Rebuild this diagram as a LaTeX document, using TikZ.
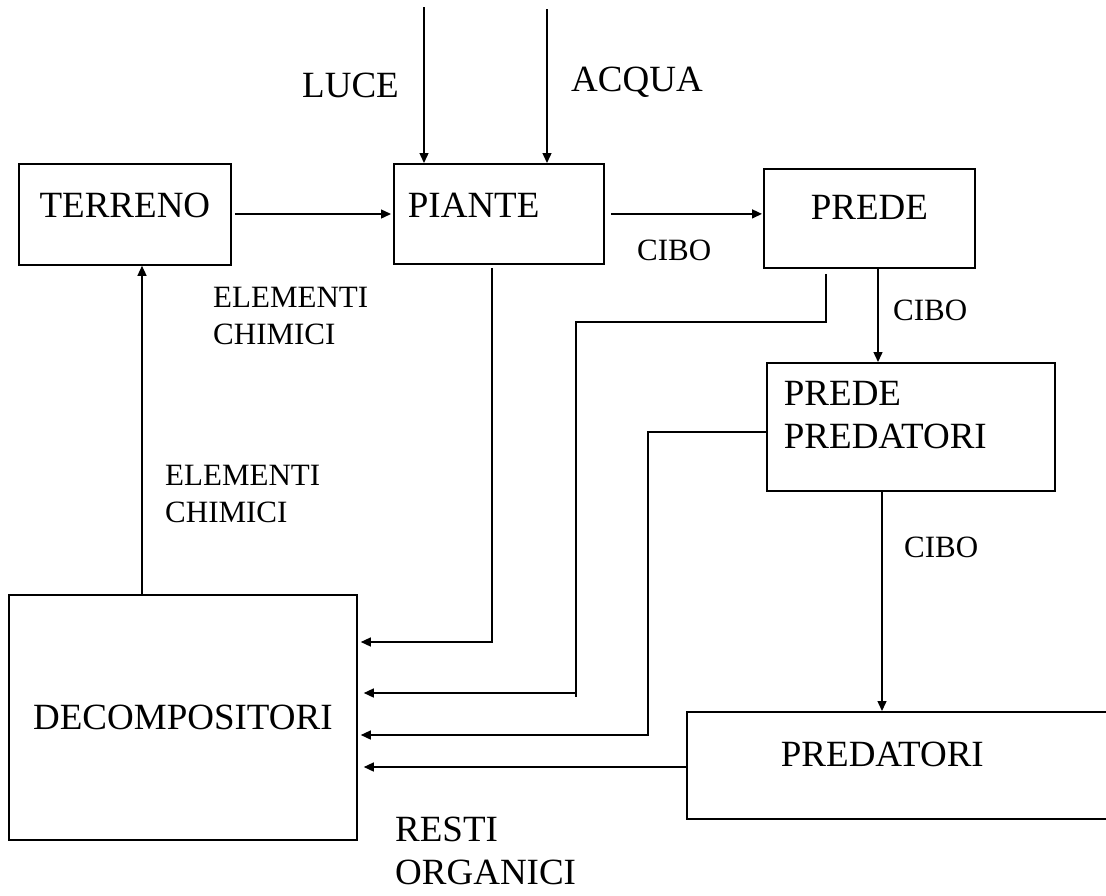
\documentclass[tikz,border=0pt]{standalone}
\usepackage{fontspec}
\setmainfont{Liberation Serif}
\usetikzlibrary{arrows.meta, positioning}
\tikzset{
  block/.style = {rectangle, draw=black, line width=1.8pt, anchor=north west, inner sep=0pt, font=\fontsize{37}{43}\selectfont},
  bigtag/.style = {inner sep=0pt, align=left, font=\fontsize{37}{43}\selectfont},
  smalltag/.style = {inner sep=0pt, align=left, font=\fontsize{31}{37}\selectfont},
  flow/.style = {-{Triangle[length=10pt, width=9pt]}, line width=1.4pt},
  wire/.style = {line width=1.4pt}
}
\begin{document}
\begin{tikzpicture}[x=1pt, y=-1pt]
\useasboundingbox (0,0) rectangle (1106,895);

% Boxes
\node[block, minimum width=212pt, minimum height=101pt, text depth=18pt] (terreno) at (18,163) {TERRENO};
\node[block, minimum width=210pt, minimum height=100pt, text width=182pt, align=left, text depth=18pt] (piante) at (393,163) {PIANTE};
\node[block, minimum width=211pt, minimum height=99pt, text depth=22pt] (prede) at (763,168) {PREDE};
\node[block, minimum width=288pt, minimum height=128pt, text width=254pt, align=left, text depth=67pt] (pp) at (766,362) {PREDE\\PREDATORI};
\node[block, minimum width=348pt, minimum height=245pt] (decomp) at (8,594) {DECOMPOSITORI};
\node[block, minimum width=430pt, minimum height=107pt, text width=242pt, align=left, text depth=22pt] (predatori) at (686,711) {PREDATORI};

% Labels
\node[bigtag, anchor=base west] (luce) at (302,97) {LUCE};
\node[bigtag, anchor=base west] (acqua) at (571,91) {ACQUA};
\node[smalltag, anchor=base west] (cibo a) at (637,260) {CIBO};
\node[smalltag, anchor=base west] (cibo b) at (893,320) {CIBO};
\node[smalltag, anchor=base west] (cibo c) at (904,557) {CIBO};
\node[smalltag, anchor=north west] (chem a) at (213,287) {ELEMENTI\\CHIMICI};
\node[smalltag, anchor=north west] (chem b) at (165,465) {ELEMENTI\\CHIMICI};
\node[bigtag, anchor=north west] (resti) at (395,817) {RESTI\\ORGANICI};

% Inputs from above
\coordinate (luce top) at (424,7);
\coordinate (acqua top) at (547,9);
\draw[flow] (luce top) -- (luce top |- piante.north);
\draw[flow] (acqua top) -- (acqua top |- piante.north);

% Food chain
\draw[flow, shorten <=3pt, shorten >=2pt] (terreno.east |- 0,214) -- (piante.west |- 0,214);
\draw[flow, shorten <=6pt, shorten >=1pt] (piante.east) -- (piante.east -| prede.west);
\draw[flow] (prede.south -| 878,0) -- (878,0 |- pp.north);
\draw[flow] (882,0 |- pp.south) -- (882,0 |- predatori.north);
\draw[flow] (142,0 |- decomp.north) -- (142,0 |- terreno.south);

% Remains to decomposers
\coordinate (prey bend) at (576,693);
\draw[flow, shorten <=3pt, shorten >=3pt] (492,0 |- piante.south) |- (decomp.east |- 0,642);
\draw[wire, shorten <=5pt] (826,0 |- prede.south) |- (576,322) -- (576,697);
\draw[flow, shorten >=6pt] (prey bend) -- (decomp.east |- prey bend);
\draw[flow, shorten >=3pt] (pp.west |- 0,432) -| (648,735) -- (decomp.east |- 0,735);
\draw[flow, shorten >=6pt] (predatori.west |- 0,767) -- (decomp.east |- 0,767);

\end{tikzpicture}
\end{document}
